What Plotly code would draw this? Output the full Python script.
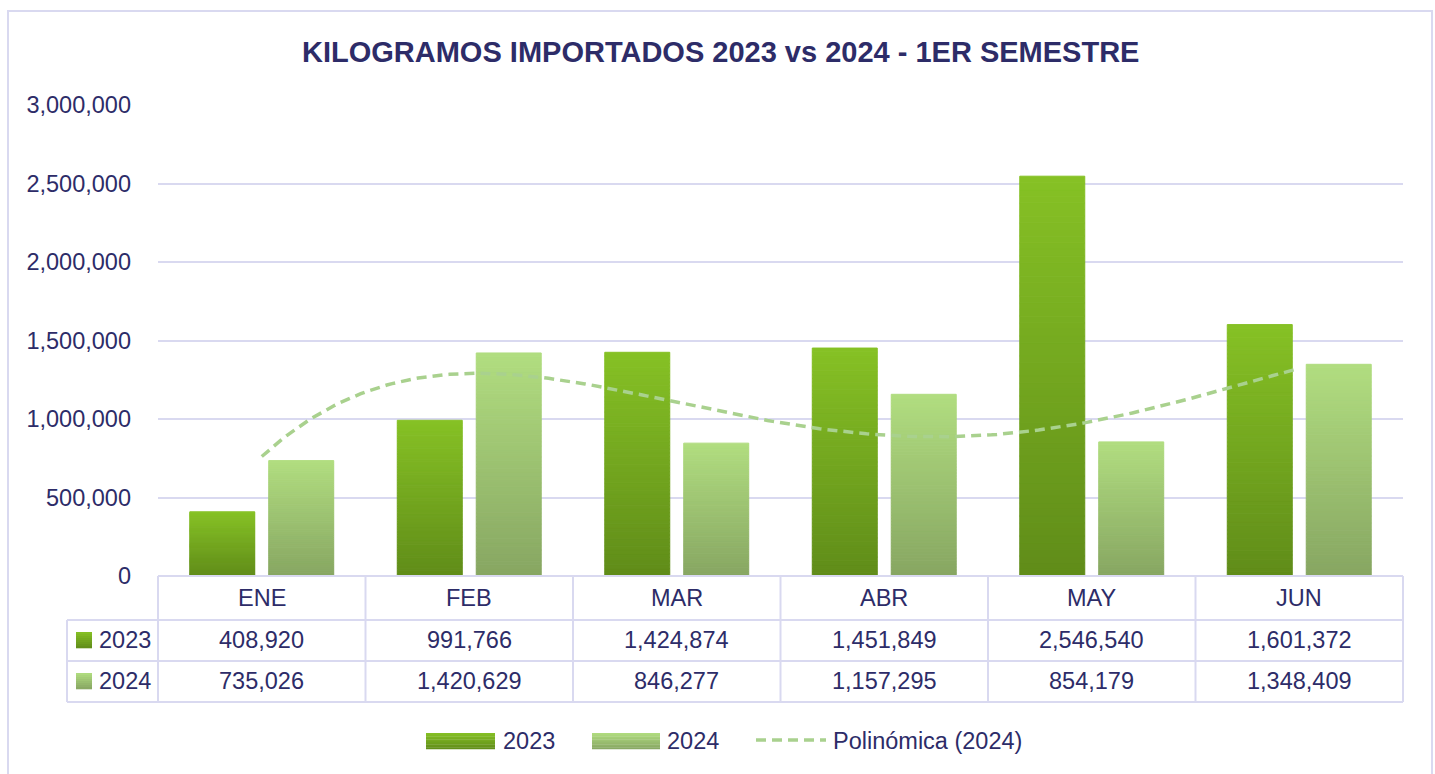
import numpy as np
import plotly.graph_objects as go

# ---------------- data ----------------
months = ["ENE", "FEB", "MAR", "ABR", "MAY", "JUN"]
kg_2023 = [408920, 991766, 1424874, 1451849, 2546540, 1601372]
kg_2024 = [735026, 1420629, 846277, 1157295, 854179, 1348409]
series_names = ["2023", "2024"]
trend_name = "Polinómica (2024)"
title_text = "KILOGRAMOS IMPORTADOS 2023 vs 2024 - 1ER SEMESTRE"
y_tickvals = [0, 500000, 1000000, 1500000, 2000000, 2500000, 3000000]

# ---------------- style ----------------
W, H = 1435, 774
PL, PR, PT, PB = 158, 1403, 105, 576   # plot area in pixels
FONT = "Liberation Sans, Arial, sans-serif"
FS = 23.5
TXT = "#2d2c68"
GRID = "#d9d9f0"
C23 = ((96, 140, 25), (134, 193, 37))     # bottom, top
C24 = ((135, 166, 98), (177, 221, 128))
TREND = "#a9d18e"
NSEG = 60


def X(px):
    return (px - PL) / (PR - PL)


def Y(py):
    return (PB - py) / (PB - PT)


def mix(c0, c1, t):
    return "rgb(%d,%d,%d)" % tuple(round(a + (b - a) * t) for a, b in zip(c0, c1))


xs = np.arange(1, len(months) + 1)
fig = go.Figure()

# gradient bars: each bar split into stacked slices coloured bottom->top
for name, vals, cols in [(series_names[0], kg_2023, C23), (series_names[1], kg_2024, C24)]:
    vals = np.array(vals, dtype=float)
    for i in range(NSEG):
        col = mix(cols[0], cols[1], (i + 0.5) / NSEG)
        fig.add_trace(go.Bar(
            x=xs, y=vals / NSEG, base=vals * i / NSEG,
            offsetgroup=name, name=name, showlegend=False,
            marker=dict(color=col, line=dict(color=col, width=1)),
            hoverinfo="skip",
        ))

# polynomial trend (order 4) of 2024
coef = np.polyfit(xs, kg_2024, 4)
xf = np.linspace(1, len(months), 200)
fig.add_trace(go.Scatter(
    x=xf, y=np.polyval(coef, xf), mode="lines", name=trend_name, showlegend=False,
    line=dict(color=TREND, width=3.5, dash="10px,6px"), hoverinfo="skip",
))

shapes = []
ann = []

# outer chart border
shapes.append(dict(type="rect", xref="paper", yref="paper", x0=X(8), x1=X(1432), y0=Y(790), y1=Y(11),
                   line=dict(color=GRID, width=2), layer="below"))

# data table lines
line = dict(color=GRID, width=2)
row_y = [620, 661, 702]
for ry in row_y:
    shapes.append(dict(type="line", xref="paper", yref="paper", x0=X(67), x1=X(PR), y0=Y(ry), y1=Y(ry), line=line))
shapes.append(dict(type="line", xref="paper", yref="paper", x0=X(PL), x1=X(PR), y0=Y(PB), y1=Y(PB), line=line))
cat_w = (PR - PL) / len(months)
for k in range(len(months) + 1):
    shapes.append(dict(type="line", xref="paper", yref="paper", x0=X(PL + k * cat_w), x1=X(PL + k * cat_w),
                       y0=Y(PB), y1=Y(702), line=line))
shapes.append(dict(type="line", xref="paper", yref="paper", x0=X(67), x1=X(67), y0=Y(620), y1=Y(702), line=line))

tfont = dict(family=FONT, size=FS, color=TXT)
for k, m in enumerate(months):
    cx = X(PL + (k + 0.5) * cat_w)
    ann.append(dict(x=cx, y=Y(598), xref="paper", yref="paper", text=m, showarrow=False, font=tfont,
                    xanchor="center", yanchor="middle"))
    ann.append(dict(x=cx, y=Y(640), xref="paper", yref="paper", text=f"{kg_2023[k]:,}", showarrow=False,
                    font=tfont, xanchor="center", yanchor="middle"))
    ann.append(dict(x=cx, y=Y(681), xref="paper", yref="paper", text=f"{kg_2024[k]:,}", showarrow=False,
                    font=tfont, xanchor="center", yanchor="middle"))


def grad_rect(x0, x1, y0, y1, cols, n=10):
    h = (y1 - y0) / n
    for i in range(n):
        col = mix(cols[1], cols[0], (i + 0.5) / n)   # top bright -> bottom dark
        shapes.append(dict(type="rect", xref="paper", yref="paper", x0=X(x0), x1=X(x1),
                           y0=Y(y0 + (i + 1) * h + 0.3), y1=Y(y0 + i * h), line=dict(width=0), fillcolor=col))


# table row keys
for ry, name, cols in [(640, series_names[0], C23), (681, series_names[1], C24)]:
    grad_rect(76, 92, ry - 8, ry + 8, cols, 8)
    ann.append(dict(x=X(97), y=Y(ry), xref="paper", yref="paper", text=name, showarrow=False, font=tfont,
                    xanchor="left", yanchor="middle"))

# legend (manual)
grad_rect(426, 495, 733, 749, C23, 10)
ann.append(dict(x=X(501), y=Y(741), xref="paper", yref="paper", text=series_names[0], showarrow=False,
                font=tfont, xanchor="left", yanchor="middle"))
grad_rect(592, 660, 733, 749, C24, 10)
ann.append(dict(x=X(665), y=Y(741), xref="paper", yref="paper", text=series_names[1], showarrow=False,
                font=tfont, xanchor="left", yanchor="middle"))
shapes.append(dict(type="line", xref="paper", yref="paper", x0=X(756), x1=X(826), y0=Y(740), y1=Y(740),
                   line=dict(color=TREND, width=3.5, dash="10px,6px")))
ann.append(dict(x=X(831), y=Y(741), xref="paper", yref="paper", text=trend_name, showarrow=False,
                font=tfont, xanchor="left", yanchor="middle"))

# title
ann.append(dict(x=X(720), y=Y(52), xref="paper", yref="paper", text="<b>" + title_text + "</b>", showarrow=False,
                font=dict(family=FONT, size=29, color=TXT), xanchor="center", yanchor="middle"))

fig.update_layout(
    width=W, height=H,
    margin=dict(l=PL, r=W - PR, t=PT, b=H - PB, pad=0, autoexpand=False),
    paper_bgcolor="white", plot_bgcolor="white",
    barmode="group", bargap=0.239, bargroupgap=0.177,
    showlegend=False,
    shapes=shapes, annotations=ann,
    xaxis=dict(range=[0.5, len(months) + 0.5], showticklabels=False, showgrid=False, zeroline=False,
               showline=False, fixedrange=True, automargin=False),
    yaxis=dict(range=[0, 3000000], tickvals=y_tickvals, tickformat=",", showgrid=True, gridcolor=GRID,
               gridwidth=2, zeroline=False, showline=False, ticks="", ticklabelstandoff=26,
               tickfont=dict(family=FONT, size=FS, color=TXT), fixedrange=True, automargin=False),
)

fig.write_html("out.html", config={"displayModeBar": False, "staticPlot": True},
               post_script="document.body.style.margin='0';document.body.style.overflow='hidden';")
